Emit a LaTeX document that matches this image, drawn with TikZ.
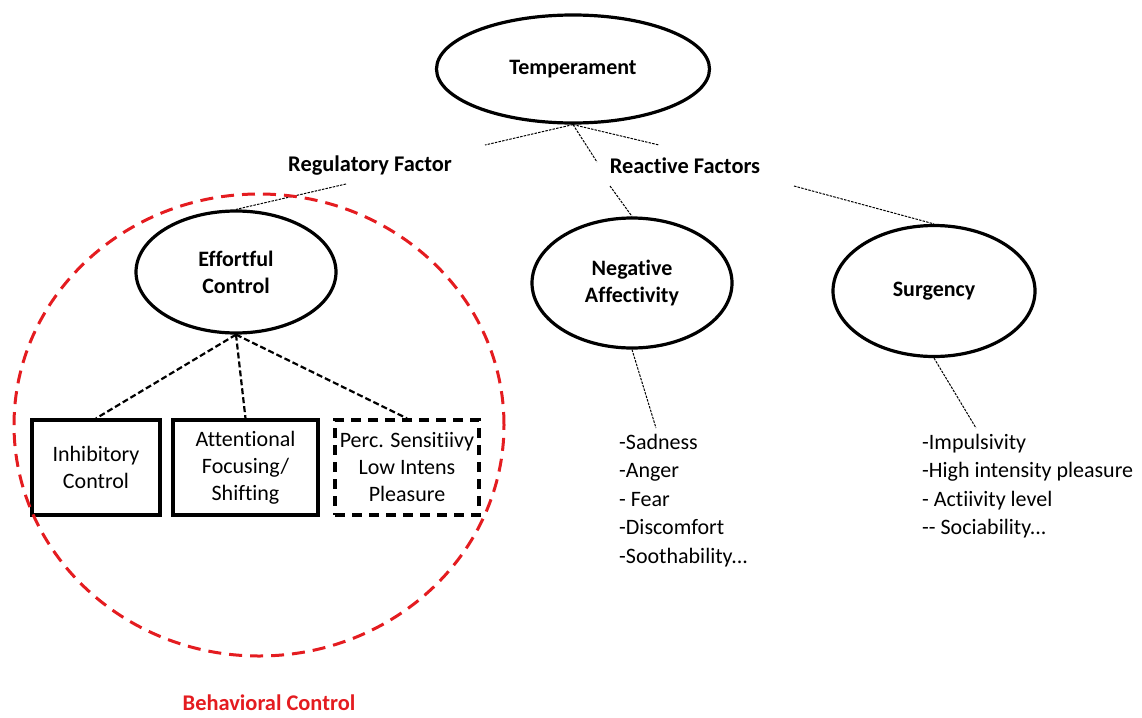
\documentclass[tikz,border=0pt]{standalone}
\usepackage{fontspec}
\setmainfont[Ligatures=NoCommon]{Carlito}
\usetikzlibrary{shapes.geometric}
\definecolor{bcred}{RGB}{228,28,32}
\begin{document}
\begin{tikzpicture}[x=1pt,y=-1pt,
	oval/.style={ellipse,draw,line width=3.2pt,font=\fontsize{22}{27}\selectfont\bfseries,align=center,inner sep=0pt},
	facet/.style={rectangle,draw,line width=3.2pt,minimum height=95pt,font=\fontsize{22}{27}\selectfont,align=center,inner sep=0pt},
	branch/.style={line width=1pt,dash pattern=on 2.5pt off 1.2pt},
	link/.style={line width=2.2pt,dash pattern=on 6pt off 3pt},
	label/.style={font=\fontsize{22.4}{26}\selectfont\bfseries},
	traits/.style={anchor=north west,align=left,font=\fontsize{22}{28.5}\selectfont,inner sep=0pt}]
	\useasboundingbox (0,0) rectangle (1142,717);
	% top level
	\node[oval,minimum width=273pt,minimum height=108pt] (temp) at (573,69) {Temperament};
	\node[label] (reg) at (370,166) {Regulatory Factor};
	\node[label] (react) at (685,166) {Reactive Factors};
	\coordinate (regend) at (485,145);
	\coordinate (midend) at (597,162);
	\coordinate (reactend) at (659,145);
	\draw[branch] (temp.south) -- (regend);
	\draw[branch] (temp.south) -- (midend);
	\draw[branch] (temp.south) -- (reactend);
	% factors
	\node[oval,minimum width=200pt,minimum height=122pt] (eff) at (236,272) {Effortful\\Control};
	\node[oval,minimum width=200pt,minimum height=130pt] (neg) at (632,283) {Negative\\Affectivity};
	\node[oval,minimum width=202pt,minimum height=131pt] (surg) at (934,291) {Surgency};
	\coordinate (regfoot) at (346,184);
	\coordinate (negtop) at (610,186);
	\coordinate (surgtop) at (794,186);
	\draw[branch] (regfoot) -- (eff.north);
	\draw[branch] (negtop) -- (neg.north);
	\draw[branch] (surgtop) -- (surg.north);
	% effortful control facets
	\node[facet,minimum width=128pt] (inh) at (96,467.5) {Inhibitory\\Control};
	\node[facet,minimum width=145pt] (att) at (245.5,467.5) {Attentional\\Focusing/\\Shifting};
	\node[facet,minimum width=144pt,dash pattern=on 10pt off 7pt] (perc) at (407,467.5) {Perc. Sensitiivy\\Low Intens\\Pleasure};
	\foreach \f in {inh,att,perc} \draw[link] (eff.south) -- (\f.north);
	% reactive lists
	\node[traits] (neglist) at (619,434) {-Sadness\\-Anger\\- Fear\\-Discomfort\\-Soothability...};
	\node[traits] (surglist) at (922,434) {-Impulsivity\\-High intensity pleasure\\- Actiivity level\\-{}- Sociability...};
	\coordinate (negfoot) at (656,428);
	\coordinate (surgfoot) at (976,428);
	\draw[branch] (neg.south) -- (negfoot);
	\draw[branch] (surg.south) -- (surgfoot);
	% behavioral control
	\node[draw=bcred,ellipse,line width=3pt,dash pattern=on 13pt off 8pt,minimum width=490pt,minimum height=462pt] (behav) at (259,425) {};
	\node[label,text=bcred,inner sep=0pt] (behavlbl) at (269,703) {Behavioral Control};
\end{tikzpicture}
\end{document}
